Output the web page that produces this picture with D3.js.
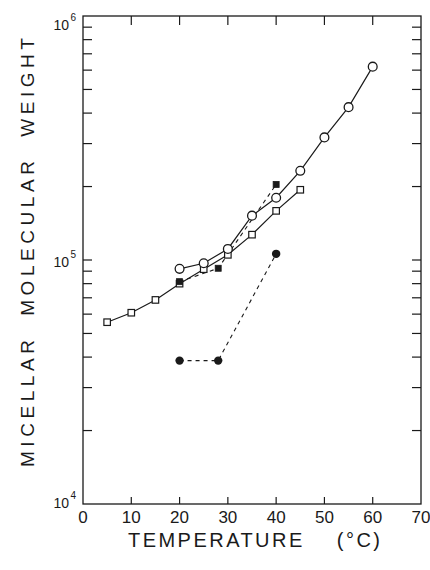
<!DOCTYPE html>
<html><head><meta charset="utf-8">
<script src="https://cdn.jsdelivr.net/npm/d3@7"></script>
<style>
html,body{margin:0;padding:0;background:#fff;}
svg{display:block;}
text{font-family:"Liberation Sans","DejaVu Sans",sans-serif;fill:#1a1a1a;}
</style></head>
<body>
<svg id="c" width="430" height="570"></svg>
<script>
// ---- data ----
const xTicks = [0,10,20,30,40,50,60,70];
const yDecades = [1e4,1e5,1e6];
const yDecadeExp = ["4","5","6"];

const openCircleT = [20,25,30,35,40,45,50,55,60];
const openCircleM = [92000,97000,111000,152000,180000,232000,318000,423000,620000];

const openSquareT = [5,10,15,20,25,30,35,40,45];
const openSquareM = [55600,60800,68600,80000,91700,105000,127000,159000,194000];

const filledSquareT = [20,28,40];
const filledSquareM = [81500,92500,204000];

const filledCircleT = [20,28,40];
const filledCircleM = [38700,38700,106000];

const xTitle = "TEMPERATURE    (°C)";
const yTitle = "MICELLAR  MOLECULAR  WEIGHT";

// ---- drawing ----
const svg = d3.select("#c");
const L=83, R=421, T=16, B=504;
const x = d3.scaleLinear().domain([0,70]).range([L,R]);
const y = d3.scaleLog().domain([1e4,1e6]).range([B,T]);
const ink = "#1a1a1a";

// frame
svg.append("rect").attr("x",L).attr("y",T).attr("width",R-L).attr("height",B-T)
  .attr("fill","none").attr("stroke",ink).attr("stroke-width",1.3);

// x ticks bottom & top (inward)
const tlen = 7;
const xt = svg.append("g");
xTicks.slice(1,-1).forEach(v=>{
  xt.append("line").attr("x1",x(v)).attr("x2",x(v)).attr("y1",B).attr("y2",B-tlen).attr("stroke",ink).attr("stroke-width",1.2);
  xt.append("line").attr("x1",x(v)).attr("x2",x(v)).attr("y1",T).attr("y2",T+tlen+2).attr("stroke",ink).attr("stroke-width",1.2);
});
// x tick labels
xTicks.forEach(v=>{
  svg.append("text").attr("x",x(v)).attr("y",523).attr("text-anchor","middle")
    .attr("font-size",17).text(v);
});

// y ticks (log minor + major), left and right
const yTickVals = y.ticks().filter(v=>v>1e4 && v<1e6);
yTickVals.forEach(v=>{
  const len = 9;
  svg.append("line").attr("x1",L).attr("x2",L+len).attr("y1",y(v)).attr("y2",y(v)).attr("stroke",ink).attr("stroke-width",1.2);
  svg.append("line").attr("x1",R).attr("x2",R-len).attr("y1",y(v)).attr("y2",y(v)).attr("stroke",ink).attr("stroke-width",1.2);
});
// y decade labels 10^n
const yLabelDy = [4,7,14];
yDecades.forEach((v,i)=>{
  const t = svg.append("text").attr("x",69).attr("y",y(v)+yLabelDy[i]).attr("text-anchor","end").attr("font-size",14).text("10");
  svg.append("text").attr("x",70.5).attr("y",y(v)+yLabelDy[i]-9).attr("font-size",10).text(yDecadeExp[i]);
});

// titles
svg.append("text").attr("x",128).attr("y",547).attr("font-size",20)
  .attr("textLength",252).attr("lengthAdjust","spacing").style("white-space","pre").text(xTitle);
svg.append("text").attr("transform","translate(34,467) rotate(-90)").attr("font-size",19)
  .attr("textLength",429).attr("lengthAdjust","spacing").style("white-space","pre").text(yTitle);

// series
const line = d3.line().x(d=>x(d[0])).y(d=>y(d[1]));
function pts(ts,ms){return ts.map((t,i)=>[t,ms[i]]);}

const sq = pts(openSquareT,openSquareM);
const oc = pts(openCircleT,openCircleM);
const fs = pts(filledSquareT,filledSquareM);
const fc = pts(filledCircleT,filledCircleM);

svg.append("path").attr("d",line(fs)).attr("fill","none").attr("stroke",ink).attr("stroke-width",1.1).attr("stroke-dasharray","4,4");
svg.append("path").attr("d",line(fc)).attr("fill","none").attr("stroke",ink).attr("stroke-width",1.1).attr("stroke-dasharray","4,4");
svg.append("path").attr("d",line(sq)).attr("fill","none").attr("stroke",ink).attr("stroke-width",1.2);
svg.append("path").attr("d",line(oc)).attr("fill","none").attr("stroke",ink).attr("stroke-width",1.2);

const s=6.5;
svg.selectAll(".sq").data(sq).enter().append("rect")
  .attr("x",d=>x(d[0])-s/2).attr("y",d=>y(d[1])-s/2).attr("width",s).attr("height",s)
  .attr("fill","#fff").attr("stroke",ink).attr("stroke-width",1.2);
svg.selectAll(".oc").data(oc).enter().append("circle")
  .attr("cx",d=>x(d[0])).attr("cy",d=>y(d[1])).attr("r",4.4)
  .attr("fill","#fff").attr("stroke",ink).attr("stroke-width",1.3);
const fsS=6;
svg.selectAll(".fs").data(fs).enter().append("rect")
  .attr("x",d=>x(d[0])-fsS/2).attr("y",d=>y(d[1])-fsS/2).attr("width",fsS).attr("height",fsS)
  .attr("fill",ink).attr("stroke",ink).attr("stroke-width",0.8);
svg.selectAll(".fc").data(fc).enter().append("circle")
  .attr("cx",d=>x(d[0])).attr("cy",d=>y(d[1])).attr("r",4.2).attr("fill",ink);
</script>
</body></html>
